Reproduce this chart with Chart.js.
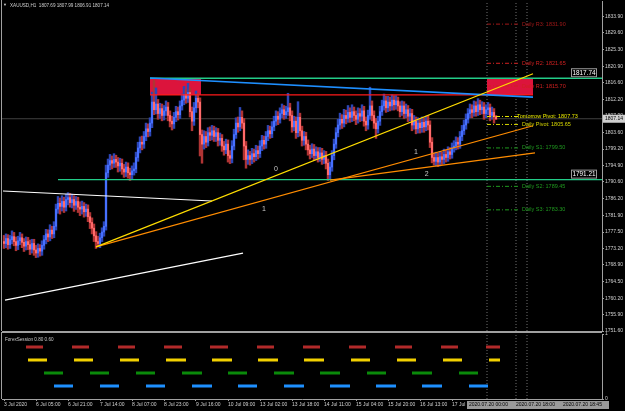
<!DOCTYPE html>
<html>
<head>
<meta charset="utf-8">
<script src="https://cdn.jsdelivr.net/npm/chart.js@4.4.0/dist/chart.umd.min.js"></script>
<style>
  html, body { margin: 0; padding: 0; background: #000; }
  #wrap { position: relative; width: 625px; height: 411px; overflow: hidden; background: #000; }
  canvas { position: absolute; left: 0; }
  #main { top: 0; }
  #sub { top: 332px; }
</style>
</head>
<body>
<div id="wrap">
  <canvas id="main" width="625" height="411"></canvas>
  <canvas id="sub" width="625" height="79"></canvas>
</div>
<script>
// XAUUSD H1, one value per bar (bar 0 = 3 Jul 2020)
const closes = [
  1774.5, 1775.8, 1774.2, 1775.5, 1776.3, 1775.0, 1774.0, 1775.2, 1776.0, 1774.8,
  1773.8, 1775.0, 1774.2, 1773.0, 1774.5, 1772.8, 1772.0, 1773.2, 1772.5, 1774.0,
  1775.5, 1777.0, 1776.2, 1778.0, 1777.0, 1779.0, 1783.5, 1785.0, 1784.2, 1785.5,
  1784.0, 1786.0, 1786.5, 1785.2, 1786.0, 1784.5, 1785.5, 1784.0, 1783.5, 1784.2,
  1782.8, 1783.5, 1781.5, 1780.0, 1778.5, 1776.5, 1775.0, 1774.5, 1776.0, 1777.5,
  1779.0, 1793.0, 1795.0, 1796.2, 1795.5, 1796.5, 1795.8, 1794.8, 1795.5, 1794.0,
  1793.2, 1794.5, 1793.0, 1792.5, 1793.5, 1794.0, 1797.0, 1799.5, 1801.0, 1800.5,
  1802.5, 1804.5, 1803.8, 1806.0, 1811.5, 1809.5, 1811.0, 1808.5, 1809.8, 1808.0,
  1809.2, 1810.2, 1808.0, 1806.5, 1805.8, 1807.5, 1809.0, 1808.2, 1810.5, 1812.0,
  1813.5, 1812.5, 1814.0, 1809.0, 1806.5, 1810.0, 1812.5, 1811.5, 1803.0, 1800.5,
  1802.5, 1801.0, 1803.5, 1802.8, 1804.0, 1802.5, 1803.5, 1801.5, 1802.0, 1800.0,
  1799.0, 1800.5, 1797.5, 1796.8, 1800.0, 1803.0, 1806.0, 1805.0, 1807.5, 1806.0,
  1800.0, 1796.5, 1797.5, 1796.5, 1798.0, 1797.2, 1798.8, 1798.0, 1800.0, 1801.5,
  1800.5, 1802.5, 1804.0, 1803.2, 1805.0, 1806.5, 1807.8, 1807.0, 1808.5, 1809.5,
  1808.2, 1809.0, 1810.0, 1808.0, 1805.0, 1806.5, 1803.5, 1807.5, 1804.0, 1801.5,
  1802.5, 1800.5, 1799.0, 1798.0, 1799.2, 1797.5, 1798.5, 1797.0, 1798.2, 1796.5,
  1797.5, 1795.5, 1792.5, 1794.5, 1797.5, 1800.5, 1803.5, 1805.5, 1807.0, 1806.0,
  1808.0, 1807.2, 1808.8, 1807.5, 1809.0, 1808.0, 1807.0, 1808.5, 1807.8, 1809.2,
  1806.5, 1805.5, 1808.0, 1810.5, 1808.0, 1806.0, 1804.5, 1806.5, 1809.0, 1810.5,
  1811.8, 1810.0, 1811.5, 1810.5, 1812.0, 1810.8, 1811.8, 1810.5, 1809.0, 1810.5,
  1808.5, 1809.5, 1807.8, 1808.5, 1805.5, 1806.5, 1804.5, 1806.0, 1804.8, 1806.2,
  1805.0, 1806.5, 1805.5, 1801.0, 1797.0, 1796.0, 1797.0, 1795.8, 1797.2, 1796.5,
  1797.8, 1797.0, 1798.5, 1797.8, 1799.5, 1800.0, 1801.0, 1800.5, 1802.5, 1804.0,
  1805.5, 1807.0, 1808.5, 1809.5, 1808.8, 1810.5, 1809.0, 1810.8, 1809.5, 1810.2,
  1808.5, 1809.5, 1810.0, 1808.0, 1808.8, 1807.69, 1807.14
];
const highs = [
  1776.6, 1777.0, 1776.8, 1776.6, 1777.8, 1777.4, 1776.2, 1776.4, 1777.4, 1777.0,
  1775.8, 1776.2, 1776.1, 1775.4, 1775.6, 1775.6, 1774.0, 1774.4, 1774.2, 1775.2,
  1776.6, 1778.2, 1778.1, 1779.4, 1779.0, 1780.2, 1784.8, 1786.8, 1786.4, 1787.0,
  1786.6, 1787.4, 1787.8, 1787.6, 1787.4, 1787.0, 1786.8, 1786.6, 1785.4, 1785.6,
  1785.2, 1784.8, 1784.6, 1782.6, 1781.2, 1779.6, 1777.6, 1776.4, 1777.2, 1778.6,
  1780.2, 1795.0, 1796.6, 1797.8, 1797.4, 1798.0, 1797.6, 1797.0, 1796.8, 1796.6,
  1795.2, 1795.8, 1795.6, 1794.2, 1794.8, 1795.6, 1798.4, 1801.0, 1802.4, 1802.6,
  1803.8, 1806.0, 1805.8, 1807.4, 1814.1, 1817.2, 1815.2, 1812.2, 1811.2, 1811.0,
  1810.6, 1811.8, 1811.4, 1809.2, 1807.8, 1808.8, 1810.4, 1810.2, 1811.8, 1813.6,
  1815.6, 1814.8, 1816.4, 1815.2, 1810.2, 1811.4, 1814.4, 1813.8, 1812.6, 1804.2,
  1804.0, 1803.8, 1804.8, 1805.0, 1805.4, 1805.2, 1804.8, 1804.6, 1803.4, 1803.0,
  1801.2, 1801.8, 1801.6, 1798.8, 1801.4, 1804.4, 1807.4, 1807.6, 1810.1, 1809.2,
  1807.2, 1801.2, 1799.0, 1798.6, 1799.4, 1799.2, 1800.2, 1800.0, 1801.4, 1802.8,
  1802.6, 1803.8, 1805.4, 1805.2, 1806.4, 1807.8, 1809.2, 1809.0, 1810.0, 1811.0,
  1810.6, 1810.4, 1813.8, 1811.2, 1809.2, 1807.8, 1807.6, 1811.6, 1808.6, 1805.2,
  1803.8, 1803.6, 1801.6, 1800.2, 1800.6, 1800.4, 1799.8, 1799.6, 1799.6, 1799.4,
  1798.8, 1798.6, 1796.6, 1795.8, 1798.8, 1801.8, 1804.8, 1807.0, 1808.6, 1808.2,
  1809.6, 1809.4, 1810.6, 1810.0, 1810.8, 1810.2, 1809.2, 1810.0, 1809.8, 1810.8,
  1810.4, 1807.6, 1809.4, 1815.4, 1811.8, 1809.2, 1807.2, 1807.8, 1810.4, 1812.0,
  1813.6, 1813.0, 1813.0, 1812.8, 1813.4, 1813.2, 1813.2, 1812.8, 1811.6, 1811.8,
  1811.6, 1811.0, 1810.6, 1809.8, 1809.6, 1808.0, 1807.6, 1807.4, 1807.2, 1807.6,
  1807.4, 1807.8, 1808.0, 1806.6, 1802.2, 1798.2, 1798.4, 1798.2, 1798.6, 1798.4,
  1799.2, 1799.0, 1799.8, 1799.6, 1800.8, 1801.4, 1802.4, 1802.2, 1803.8, 1805.4,
  1806.8, 1808.4, 1809.8, 1811.0, 1810.8, 1811.8, 1811.6, 1812.4, 1812.0, 1811.6,
  1811.4, 1810.8, 1811.4, 1811.0, 1810.2, 1809.8, 1807.99
];
const lows = [
  1773.2, 1773.4, 1773.0, 1773.2, 1774.4, 1773.9, 1772.6, 1772.9, 1774.2, 1773.4,
  1772.4, 1772.8, 1772.9, 1771.6, 1772.0, 1771.4, 1770.8, 1770.9, 1771.2, 1771.4,
  1773.0, 1774.4, 1775.0, 1775.2, 1775.8, 1776.0, 1778.0, 1782.4, 1782.2, 1783.0,
  1782.6, 1783.0, 1784.6, 1784.0, 1783.8, 1782.9, 1783.4, 1782.6, 1781.8, 1782.2,
  1781.4, 1781.6, 1780.2, 1778.4, 1777.0, 1775.0, 1773.2, 1773.6, 1773.4, 1775.0,
  1776.4, 1778.0, 1791.8, 1793.8, 1794.0, 1794.4, 1794.4, 1793.2, 1793.4, 1792.6,
  1791.8, 1792.0, 1791.6, 1791.0, 1791.4, 1792.4, 1793.0, 1796.0, 1798.2, 1799.0,
  1799.4, 1801.4, 1802.4, 1802.6, 1804.8, 1808.2, 1808.4, 1807.0, 1807.2, 1806.6,
  1806.8, 1808.0, 1806.6, 1805.0, 1804.2, 1804.6, 1806.4, 1806.8, 1807.2, 1809.4,
  1810.8, 1811.2, 1811.4, 1807.6, 1804.0, 1805.4, 1808.8, 1810.0, 1797.4, 1795.5,
  1799.2, 1799.6, 1800.0, 1801.4, 1801.6, 1801.2, 1801.2, 1800.0, 1800.2, 1798.6,
  1797.6, 1798.0, 1795.8, 1795.4, 1795.6, 1799.0, 1802.0, 1803.6, 1804.0, 1804.6,
  1796.4, 1794.2, 1795.2, 1795.0, 1795.4, 1795.8, 1796.2, 1796.6, 1797.0, 1798.8,
  1799.2, 1799.4, 1801.4, 1802.0, 1802.2, 1804.0, 1805.4, 1805.6, 1806.0, 1807.4,
  1807.0, 1807.2, 1808.0, 1806.6, 1803.6, 1804.0, 1802.0, 1802.4, 1802.6, 1800.0,
  1800.2, 1799.0, 1797.6, 1796.6, 1797.0, 1796.2, 1796.4, 1795.8, 1796.0, 1795.2,
  1795.4, 1794.0, 1791.0, 1791.2, 1793.4, 1796.4, 1799.4, 1802.4, 1804.4, 1804.6,
  1805.0, 1805.8, 1806.2, 1806.2, 1806.4, 1806.6, 1805.6, 1806.0, 1806.4, 1806.6,
  1805.2, 1804.0, 1804.4, 1807.0, 1806.6, 1804.6, 1802.0, 1803.4, 1805.4, 1808.0,
  1809.4, 1808.8, 1809.0, 1809.2, 1809.4, 1809.4, 1809.6, 1809.2, 1807.6, 1808.0,
  1807.2, 1807.4, 1806.4, 1806.6, 1804.0, 1804.4, 1803.2, 1803.4, 1803.4, 1803.6,
  1803.6, 1804.0, 1804.2, 1799.6, 1795.6, 1795.0, 1794.8, 1794.6, 1794.8, 1795.2,
  1795.4, 1795.8, 1796.0, 1796.6, 1796.8, 1798.4, 1799.0, 1799.2, 1799.4, 1801.4,
  1803.0, 1804.4, 1806.0, 1807.4, 1807.4, 1807.8, 1807.8, 1808.0, 1808.2, 1808.4,
  1807.0, 1807.4, 1808.2, 1806.6, 1807.0, 1806.0, 1806.91
];
const firstOpen = 1775.0;

// bottom axis: bar index of each label, and its text
const timeTickBars = [0, 16, 32, 48, 64, 80, 96, 112, 128, 144, 160, 176, 192, 208, 224];
const timeTickLabels = ['3 Jul 2020', '6 Jul 05:00', '6 Jul 21:00', '7 Jul 14:00', '8 Jul 07:00',
  '8 Jul 23:00', '9 Jul 16:00', '10 Jul 09:00', '13 Jul 02:00', '13 Jul 18:00', '14 Jul 11:00',
  '15 Jul 04:00', '15 Jul 20:00', '16 Jul 13:00', '17 Jul 06:00'];
const priceTicks = [1751.60, 1755.90, 1760.20, 1764.50, 1768.90, 1773.20, 1777.50, 1781.90,
  1786.20, 1790.60, 1794.90, 1799.20, 1803.60, 1807.90, 1812.20, 1816.60, 1820.90, 1825.30,
  1829.60, 1833.90];

// drawn objects: [bar, price] end points
const blueTrend = [[73, 1817.8], [264.5, 1812.8]];
const yellowTrend = [[46, 1773.6], [264.5, 1818.9]];
const orangeTrend1 = [[46, 1773.6], [264.5, 1805.3]];
const orangeTrend2 = [[163, 1791.1], [265.5, 1798.2]];
const whiteTrend1 = [[-0.5, 1788.24], [104, 1785.62]];
const whiteTrend2 = [[0.5, 1759.7], [119.5, 1772.0]];
const greenLevels = [[73, 1817.74], [27, 1791.21]];
const redLevel = [[73, 1813.36], [264.5, 1813.36]];
const zoneBars = [[73, 98.5], [241.5, 264.5]];
const zonePrices = [1813.36, 1817.74];
const currentPrice = 1807.14;
const separatorBars = [241.5, 256, 261.5];
const separatorLabels = ['2020.07.20 00:00', '2020.07.20 18:00', '2020.07.20 18:45'];

// daily pivot levels
const pivotNames = ['Daily R3', 'Daily R2', 'Daily R1', 'Tomorrow Pivot', 'Daily Pivot', 'Daily S1', 'Daily S2', 'Daily S3'];
const pivotValues = [1831.90, 1821.65, 1815.70, 1807.73, 1805.65, 1799.50, 1789.45, 1783.30];
const pivotColors = ['#a01818', '#d02020', '#d02020', '#e8e800', '#d8d800', '#1f9a1f', '#1f9a1f', '#1f9a1f'];
const pivotBars = [241.5, 258];

// wave marks
const waveTexts = ['0', '1', '1', '2'];
const waveBars = [136, 130, 206, 211.3];
const wavePrices = [1794.1, 1783.5, 1798.4, 1792.7];

// ForexSession bars: [start bar, end bar]
const sessionLevels = [0.8, 0.6, 0.4, 0.2];
const sessionColors = ['#b22a2a', '#f2d000', '#0a8a0a', '#1e90ff'];
const sessionSpans = [
  [[11, 19.5], [34, 42.5], [57, 65.5], [80, 89], [103, 112], [126.5, 135], [149.5, 158], [172.5, 181], [195.5, 204], [218.5, 227], [241, 248]],
  [[12, 21.5], [35, 44.5], [58, 67.5], [81, 91], [104, 114], [127, 137], [150, 160], [173.5, 183], [196.5, 206], [219.5, 229], [242.5, 248]],
  [[20, 29.5], [43, 52.5], [66, 75.5], [89, 99], [112, 121.5], [135, 145], [158, 168], [181.5, 191], [204, 214], [227.5, 237]],
  [[25, 34.5], [48, 57.5], [71, 80.5], [94, 104], [117, 126.5], [140, 150], [163, 173], [186, 196], [209, 219], [232.5, 242]]
];

const FONT = 'Liberation Sans';
const AXIS = '#a0a0a0';
const TXT = '#d0d0d0';
const UP = '#4670ff', DOWN = '#ff6a6a';
const UP_W = '#2c46b8', DOWN_W = '#b03434';

const opens = closes.map((c, i) => i === 0 ? firstOpen : closes[i - 1]);
const isUp = closes.map((c, i) => c >= opens[i]);

function seg(pts) { return pts.map(p => ({x: p[0], y: p[1]})); }
function lineDs(data, color, width, order, dash) {
  return {type: 'line', data: data, borderColor: color, borderWidth: width, pointRadius: 0,
    fill: false, order: order, borderDash: dash || [], tension: 0};
}
function noPad(s) { s.paddingTop = 0; s.paddingBottom = 0; s.paddingLeft = 0; s.paddingRight = 0; }

const datasets = [];
// background: current price line and day separators
datasets.push(lineDs(seg([[-1, currentPrice], [299, currentPrice]]), '#404040', 1, 20));
separatorBars.forEach(b => datasets.push(lineDs(seg([[b, 1751.6], [b, 1838]]), '#707070', 1, 19, [1, 2])));
// red zones
zoneBars.forEach(z => datasets.push({type: 'line', data: seg([[z[0], zonePrices[1]], [z[1], zonePrices[1]]]),
  borderWidth: 0, pointRadius: 0, backgroundColor: '#dc143c', fill: {value: zonePrices[0]}, order: 15}));
// candles
datasets.push({type: 'bar', data: closes.map((c, i) => ({x: i, y: [lows[i], highs[i]]})),
  backgroundColor: isUp.map(u => u ? UP_W : DOWN_W), barThickness: 1.8, grouped: false, order: 10});
datasets.push({type: 'bar', data: closes.map((c, i) => ({x: i, y: [opens[i], c]})),
  backgroundColor: isUp.map(u => u ? UP : DOWN), barThickness: 1.4, minBarLength: 1, grouped: false, order: 9});
// pivots
pivotValues.forEach((v, k) => datasets.push(lineDs(seg([[pivotBars[0], v], [pivotBars[1], v]]), pivotColors[k], 1, 6, [4, 2, 1, 2])));
// levels and trend lines
greenLevels.forEach(g => datasets.push(lineDs(seg([[g[0], g[1]], [299, g[1]]]), '#22cc88', 1.3, 4)));
datasets.push(lineDs(seg(redLevel), '#ff1a1a', 1.2, 4));
datasets.push(lineDs(seg(whiteTrend1), '#ffffff', 1.2, 3));
datasets.push(lineDs(seg(whiteTrend2), '#ffffff', 1.2, 3));
datasets.push(lineDs(seg(blueTrend), '#1e8fff', 1.6, 3));
datasets.push(lineDs(seg(orangeTrend1), '#ff8c00', 1.2, 2));
datasets.push(lineDs(seg(orangeTrend2), '#ff8c00', 1.2, 2));
datasets.push(lineDs(seg(yellowTrend), '#ffdd00', 1.2, 1));

function txt(ctx, s, x, y, color, size, align) {
  ctx.font = size + 'px "' + FONT + '"';
  ctx.fillStyle = color;
  ctx.textAlign = align || 'left';
  ctx.textBaseline = 'middle';
  ctx.fillText(s, x, y);
}

const mainOverlay = {
  id: 'mainOverlay',
  afterDatasetsDraw(chart) {
    const {ctx, scales: {x, y}} = chart;
    ctx.save();
    // title
    txt(ctx, '\u25BC', 3, 5, TXT, 4);
    txt(ctx, 'XAUUSD,H1  1807.69 1807.99 1806.91 1807.14', 10, 5.5, TXT, 4.6);
    // pivot labels
    pivotNames.forEach((n, k) => {
      const bx = n === 'Tomorrow Pivot' ? 256.5 : 259;
      txt(ctx, n + ': ' + pivotValues[k].toFixed(2), x.getPixelForValue(bx), y.getPixelForValue(pivotValues[k]), pivotColors[k], 5.5);
    });
    // wave marks
    waveTexts.forEach((t, k) => txt(ctx, t, x.getPixelForValue(waveBars[k]), y.getPixelForValue(wavePrices[k]), '#c8c8c8', 7, 'center'));
    // level price tags
    greenLevels.forEach(g => {
      const yy = y.getPixelForValue(g[1]);
      const xr = x.getPixelForValue(296.5);
      ctx.fillStyle = '#000';
      ctx.fillRect(xr - 26, yy - 10, 26, 9);
      ctx.strokeStyle = '#9a9a9a';
      ctx.lineWidth = 1;
      ctx.strokeRect(xr - 25.5, yy - 9.5, 25, 8);
      txt(ctx, g[1].toFixed(2), xr - 13, yy - 5.5, '#ffffff', 6.4, 'center');
    });
    ctx.restore();
  },
  afterDraw(chart) {
    const {ctx, scales: {y}, chartArea: a} = chart;
    ctx.save();
    ctx.strokeStyle = AXIS;
    ctx.lineWidth = 1;
    ctx.beginPath();
    ctx.moveTo(a.left - 0.5, 0); ctx.lineTo(a.left - 0.5, a.bottom);
    ctx.moveTo(a.left, a.bottom + 0.5); ctx.lineTo(a.right, a.bottom + 0.5);
    ctx.stroke();
    const yy = y.getPixelForValue(currentPrice);
    ctx.fillStyle = '#d0d0d0';
    ctx.fillRect(a.right + 1, yy - 4, 22, 8);
    txt(ctx, currentPrice.toFixed(2), a.right + 3, yy, '#000', 5);
    ctx.restore();
  }
};

new Chart(document.getElementById('main'), {
  type: 'bar',
  data: {datasets: datasets},
  options: {
    responsive: false, animation: false, devicePixelRatio: 1,
    layout: {padding: {left: 2, top: 1, right: 0, bottom: 80}},
    plugins: {legend: {display: false}, tooltip: {enabled: false}},
    scales: {
      x: {type: 'linear', min: -1, max: 299, offset: false, display: false},
      y: {
        type: 'linear', position: 'right', min: 1751.6, max: 1837.95,
        afterBuildTicks: s => { s.ticks = priceTicks.map(v => ({value: v})); },
        afterFit: s => { s.width = 23; noPad(s); },
        grid: {drawOnChartArea: false, color: AXIS, tickLength: 2},
        border: {color: AXIS},
        ticks: {autoSkip: false, color: TXT, padding: 1, font: {family: FONT, size: 5},
          callback: v => v.toFixed(2)}
      }
    }
  },
  plugins: [mainOverlay]
});

// ForexSession sub window
const subSets = sessionSpans.map((spans, k) => ({
  type: 'line',
  data: spans.flatMap(s => [{x: s[0], y: sessionLevels[k]}, {x: s[1], y: sessionLevels[k]}, {x: s[1], y: null}]),
  borderColor: sessionColors[k], borderWidth: 3, borderCapStyle: 'butt', pointRadius: 0, spanGaps: false, fill: false
}));
separatorBars.forEach(b => subSets.push({type: 'line', data: [{x: b, y: 0}, {x: b, y: 1.05}],
  borderColor: '#707070', borderWidth: 1, borderDash: [1, 2], pointRadius: 0, fill: false}));

const subOverlay = {
  id: 'subOverlay',
  afterDraw(chart) {
    const {ctx, scales: {x}, chartArea: a} = chart;
    ctx.save();
    ctx.strokeStyle = AXIS;
    ctx.lineWidth = 1;
    ctx.beginPath();
    ctx.moveTo(a.left - 0.5, 0); ctx.lineTo(a.left - 0.5, a.bottom);
    ctx.moveTo(a.left, 0.5); ctx.lineTo(a.right, 0.5);
    ctx.stroke();
    txt(ctx, 'ForexSession 0.80 0.60', 5, 8, '#c8c8c8', 4.6);
    // time tags of the vertical lines
    const x0 = x.getPixelForValue(separatorBars[0]) - 20;
    ctx.fillStyle = '#9a9a9a';
    ctx.fillRect(x0, a.bottom + 2, 142, 8);
    separatorLabels.forEach((s, k) => txt(ctx, s, x0 + 2 + k * 47, a.bottom + 6, '#000', 5));
    ctx.restore();
  }
};

new Chart(document.getElementById('sub'), {
  type: 'line',
  data: {datasets: subSets},
  options: {
    responsive: false, animation: false, devicePixelRatio: 1,
    layout: {padding: {left: 2, top: 2, right: 0, bottom: 0}},
    plugins: {legend: {display: false}, tooltip: {enabled: false}},
    scales: {
      x: {
        type: 'linear', min: -1, max: 299, offset: false,
        afterBuildTicks: s => { s.ticks = timeTickBars.map(v => ({value: v})); },
        afterFit: s => { s.height = 12; noPad(s); },
        grid: {drawOnChartArea: false, color: AXIS, tickLength: 2},
        border: {color: AXIS},
        ticks: {autoSkip: false, maxRotation: 0, align: 'start', color: TXT, padding: 1,
          font: {family: FONT, size: 5}, callback: (v, i) => timeTickLabels[i]}
      },
      y: {
        type: 'linear', position: 'right', min: 0, max: 1,
        afterBuildTicks: s => { s.ticks = [{value: 0}, {value: 1}]; },
        afterFit: s => { s.width = 23; noPad(s); },
        grid: {drawOnChartArea: false, color: AXIS, tickLength: 2},
        border: {color: AXIS},
        ticks: {autoSkip: false, color: TXT, padding: 1, font: {family: FONT, size: 5}}
      }
    }
  },
  plugins: [subOverlay]
});
</script>
</body>
</html>
